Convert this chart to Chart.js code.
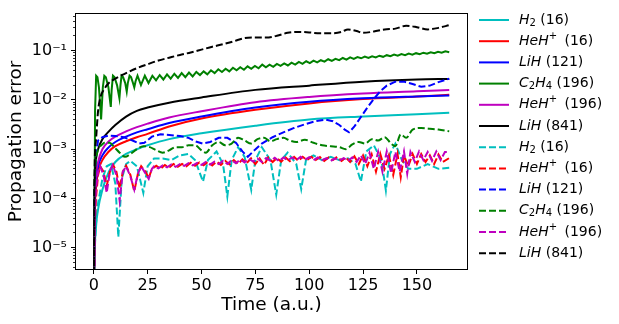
<!DOCTYPE html>
<html>
<head>
<meta charset="utf-8">
<script src="https://cdn.jsdelivr.net/npm/chart.js@4.4.1/dist/chart.umd.min.js"></script>
<style>
  html, body { margin: 0; padding: 0; background: #fff; }
</style>
</head>
<body>
<canvas id="errChart" width="619" height="324"></canvas>
<script>
// legend text: formula (mathtext-ish) + basis size
const formulas = ['H_2', 'HeH^+', 'LiH', 'C_2H_4', 'HeH^+', 'LiH'];
const sizes = ['16', '16', '121', '196', '196', '841'];
const colors = ['#00bfbf', '#ff0000', '#0000ff', '#008000', '#bf00bf', '#000000'];

const xTicks = [0, 25, 50, 75, 100, 125, 150];
const yDecades = [1e-5, 1e-4, 1e-3, 1e-2, 1e-1];
const yDecadeLabels = ['10\u207b\u2075', '10\u207b\u2074', '10\u207b\u00b3', '10\u207b\u00b2', '10\u207b\u00b9'];

// solid lines (smooth ones share one time grid)
const tSmooth = [0, 0.3, 1, 2, 4, 7, 10, 15, 20, 25, 35, 50, 75, 100, 125, 150, 165];
const h2Solid = [1e-7, 4e-6, 2.5e-5, 6e-5, 1.5e-4, 3.5e-4, 5.5e-4, 8e-4, 1e-3, 1.2e-3, 1.6e-3, 2.1e-3, 3e-3, 4e-3, 4.6e-3, 5.1e-3, 5.5e-3];
const heh16Solid = [1e-7, 2e-5, 1.5e-4, 3.5e-4, 6e-4, 9e-4, 1.15e-3, 1.45e-3, 1.75e-3, 2.05e-3, 2.9e-3, 4.2e-3, 6.3e-3, 8.5e-3, 1.04e-2, 1.17e-2, 1.27e-2];
const lih121Solid = [1e-7, 3e-5, 2.2e-4, 4.5e-4, 7.5e-4, 1.1e-3, 1.4e-3, 1.8e-3, 2.2e-3, 2.55e-3, 3.4e-3, 4.6e-3, 7e-3, 9.2e-3, 1.08e-2, 1.18e-2, 1.23e-2];
const heh196Solid = [1e-7, 4e-5, 3e-4, 5.5e-4, 1e-3, 1.45e-3, 1.8e-3, 2.3e-3, 2.8e-3, 3.3e-3, 4.4e-3, 5.9e-3, 9e-3, 1.15e-2, 1.35e-2, 1.5e-2, 1.6e-2];
const lih841Solid = [1e-7, 8e-5, 6e-4, 1e-3, 1.6e-3, 2.3e-3, 3.1e-3, 4.6e-3, 6e-3, 7e-3, 8.8e-3, 1.12e-2, 1.6e-2, 1.95e-2, 2.34e-2, 2.6e-2, 2.67e-2];

const tC2h4Solid = [0, 0.6, 1.1, 1.7, 2.4, 3.4, 4.2, 4.9, 5.6, 6.8, 7.9, 8.3, 8.9, 9.6, 10.8, 11.9, 12.4, 12.9, 13.6, 14.6, 15.3, 15.8, 16.6, 17.3, 18.2, 18.8, 19.4,
  20.3, 21.9, 23.7, 25.4,
  27.2, 28.9, 30.6, 32.3, 34.0, 35.7, 37.4, 39.1, 40.8, 42.5, 44.2, 45.9, 47.6, 49.3, 51.0, 52.7, 54.4, 56.1, 57.8, 59.5,
  61.2, 62.9, 64.6, 66.3, 68.0, 69.7, 71.4, 73.1, 74.8, 76.5, 78.2, 79.9, 81.6, 83.3, 85.0, 86.7, 88.4, 90.1, 91.8, 93.5,
  95.2, 96.9, 98.6, 100.3, 102.0, 103.7, 105.4, 107.1, 108.8, 110.5, 112.2, 113.9, 115.6, 117.3, 119.0, 120.7, 122.4, 124.1, 125.8, 127.5,
  129.2, 130.9, 132.6, 134.3, 136.0, 137.7, 139.4, 141.1, 142.8, 144.5, 146.2, 147.9, 149.6, 151.3, 153.0, 154.7, 156.4, 158.1, 159.8, 161.5,
  163.2, 165.0];
const c2h4Solid = [1e-7, 0.006, 0.031, 0.029, 0.018, 0.004, 0.018, 0.031, 0.029, 0.018, 0.0072, 0.016, 0.031, 0.029, 0.02, 0.0108, 0.02, 0.031, 0.029, 0.022, 0.0148, 0.022, 0.031, 0.029, 0.022, 0.018, 0.024,
  0.031, 0.02, 0.031, 0.022,
  0.031, 0.025, 0.032, 0.026, 0.033, 0.027, 0.034, 0.028, 0.035, 0.029, 0.036, 0.030, 0.037, 0.032, 0.038, 0.033, 0.040, 0.035, 0.042, 0.037,
  0.043, 0.038, 0.045, 0.040, 0.046, 0.041, 0.048, 0.043, 0.049, 0.044, 0.052, 0.046, 0.052, 0.047, 0.054, 0.049, 0.055, 0.050, 0.057, 0.052,
  0.059, 0.054, 0.061, 0.056, 0.063, 0.058, 0.064, 0.060, 0.067, 0.062, 0.068, 0.064, 0.071, 0.066, 0.073, 0.068, 0.074, 0.070, 0.076, 0.071,
  0.077, 0.073, 0.079, 0.075, 0.081, 0.077, 0.083, 0.079, 0.085, 0.081, 0.087, 0.083, 0.089, 0.085, 0.091, 0.087, 0.093, 0.089, 0.095, 0.091,
  0.097, 0.093];

// dashed lines
const tH2Dash = [0, 0.5, 1, 2, 4, 6, 8, 10, 11.4, 13, 15, 17, 20, 23, 25, 28, 32, 36, 40, 44,
  47, 50.7, 53, 57, 60, 62, 64, 67, 70, 73.1, 75, 78, 82, 84.7, 87, 90, 94, 96.3, 98.5, 102,
  106, 110, 114, 118, 121.5, 124, 126.5, 130, 133.5, 135.6, 137.5, 140, 143, 146, 150, 155, 160, 165];
const h2Dash = [1e-7, 1e-5, 3e-5, 8e-5, 2.5e-4, 4.5e-4, 5e-4, 2e-4, 1.65e-5, 2.5e-4, 5e-4, 5.8e-4, 4.5e-4, 1.3e-4, 4.5e-4, 6.5e-4, 6.5e-4, 6e-4, 7.5e-4, 8e-4,
  6e-4, 2.2e-4, 6e-4, 9e-4, 5e-4, 1.1e-4, 6e-4, 1.1e-3, 7e-4, 1.5e-4, 6e-4, 1.1e-3, 6e-4, 1.2e-4, 6e-4, 8.5e-4, 5e-4, 1.55e-4, 6e-4, 7.5e-4,
  6e-4, 7e-4, 6e-4, 6.5e-4, 5e-4, 2.2e-4, 9e-4, 1.2e-3, 6e-4, 1.45e-4, 8e-4, 1.3e-3, 6e-4, 4e-4, 4e-4, 5e-4, 4e-4, 4.2e-4];

const tHeh16Dash = [0, 0.5, 1, 2, 3, 4.5, 6, 7.5, 9, 10.5, 12, 13.5, 15, 17, 18.8, 20.5, 22, 24, 25.5, 27,
  29, 31, 33, 35, 37, 39, 41, 43, 45, 47, 49, 51, 53, 55, 57, 59, 61, 63, 65, 67,
  69, 71, 73, 75, 77, 79, 81, 83, 85, 87, 89, 91, 93, 95, 97, 99, 101, 103, 105, 107,
  109, 111, 113, 115, 117, 119, 121, 123, 125, 127, 129, 131, 133, 135, 137, 139, 141, 142.5, 144, 146,
  148, 150, 152, 154, 156, 158, 160, 162, 165];
const heh16Dash = [1e-7, 3e-5, 1e-4, 3e-4, 4.5e-4, 3.5e-4, 1.8e-4, 3.5e-4, 4.8e-4, 3.5e-4, 1.6e-4, 3.5e-4, 4.6e-4, 3e-4, 1.4e-4, 3.2e-4, 4.5e-4, 3.5e-4, 2.6e-4, 4e-4,
  4.6e-4, 4e-4, 4.8e-4, 4.2e-4, 5e-4, 4.4e-4, 5e-4, 4.5e-4, 5.3e-4, 4.6e-4, 5.4e-4, 4.7e-4, 5.5e-4, 4.7e-4, 5.6e-4, 4.8e-4, 5.8e-4, 4.9e-4, 6e-4, 5e-4,
  6.2e-4, 5.2e-4, 6.5e-4, 5e-4, 6.5e-4, 4.8e-4, 6.8e-4, 5.5e-4, 6.6e-4, 5.6e-4, 6.8e-4, 5.7e-4, 7e-4, 5.8e-4, 7e-4, 6e-4, 7e-4, 6e-4, 6.9e-4, 5.8e-4,
  6.8e-4, 6e-4, 7e-4, 5.8e-4, 6.8e-4, 5.5e-4, 7.2e-4, 5e-4, 7.5e-4, 4.5e-4, 7.8e-4, 3.5e-4, 8e-4, 4e-4, 7.5e-4, 3e-4, 8e-4, 2.7e-4, 7.5e-4, 4.5e-4,
  8e-4, 5e-4, 8e-4, 5.5e-4, 7.5e-4, 5e-4, 7.8e-4, 5.5e-4, 6.6e-4];

const tLih121Dash = [0, 0.3, 1, 2, 4, 7, 10, 14, 18, 21, 23.5, 27, 31, 35, 40, 44, 47, 50.5, 54, 58,
  62, 66, 69, 71.5, 74, 78, 83, 88, 93, 98, 103, 107.5, 111, 114, 116.5, 118.5, 121, 124, 127, 130,
  133, 136, 140, 144, 148, 152, 156, 160, 165];
const lih121Dash = [1e-7, 1e-4, 8e-4, 1.5e-3, 1.75e-3, 1.9e-3, 1.85e-3, 1.75e-3, 1.5e-3, 1.3e-3, 1.35e-3, 1.8e-3, 2e-3, 1.95e-3, 1.85e-3, 1.7e-3, 1.45e-3, 1.3e-3, 1.4e-3, 1.7e-3,
  1.7e-3, 1.35e-3, 9e-4, 7e-4, 9e-4, 1.3e-3, 1.75e-3, 2.2e-3, 2.7e-3, 3.2e-3, 3.7e-3, 4e-3, 3.7e-3, 3.1e-3, 2.5e-3, 2.2e-3, 2.9e-3, 4.5e-3, 7e-3, 1.05e-2,
  1.5e-2, 1.95e-2, 2.35e-2, 2.35e-2, 2.1e-2, 1.85e-2, 1.95e-2, 2.3e-2, 2.7e-2];

const tC2h4Dash = [0, 0.3, 1, 2, 3.5, 5, 7.3, 9.5, 12, 14.5, 17, 20, 23, 26, 29, 32, 35, 38, 41, 44,
  47, 50, 52, 55, 58, 61, 64, 67, 70, 73, 76, 79, 82, 85, 88, 91, 94, 98, 102, 106,
  110, 114, 117, 120, 123, 126, 129, 132, 135, 138, 140, 142.5, 145, 148, 152, 156, 160, 165];
const c2h4Dash = [1e-7, 1e-4, 6e-4, 1e-3, 1.2e-3, 1.35e-3, 1.35e-3, 1.1e-3, 8.5e-4, 7e-4, 8e-4, 1e-3, 1.15e-3, 1.1e-3, 9.5e-4, 8.5e-4, 9.5e-4, 1.1e-3, 1.1e-3, 1.2e-3,
  1.2e-3, 9.5e-4, 8.5e-4, 1.2e-3, 1.4e-3, 1.2e-3, 1.3e-3, 1.7e-3, 1.5e-3, 1.3e-3, 1.6e-3, 1.7e-3, 1.45e-3, 1.6e-3, 1.7e-3, 1.5e-3, 1.4e-3, 1.55e-3, 1.35e-3, 1.2e-3,
  1.15e-3, 1.1e-3, 1e-3, 1.25e-3, 1.4e-3, 1.3e-3, 1.6e-3, 1.5e-3, 1.75e-3, 1.3e-3, 1.15e-3, 2e-3, 1.7e-3, 2.5e-3, 2.7e-3, 2.6e-3, 2.5e-3, 2.3e-3];

const tHeh196Dash = [0, 0.5, 1, 2, 3, 4.5, 6, 7.5, 8.8, 10.5, 12, 13.5, 15, 17, 18.8, 20.5, 22, 24, 25.5, 27,
  28, 30, 32, 34, 36, 38, 40, 42, 44, 46, 48, 50, 52, 54, 56, 58, 60, 62, 64, 66,
  68, 70, 72, 74, 76, 78, 80, 82, 84, 86, 88, 90, 92, 94, 96, 98, 100, 102, 104, 106,
  108, 110, 112, 114, 116, 118, 120, 122, 124, 126, 128, 130, 132, 134, 136, 138, 140, 142, 144,
  145.5, 147, 149, 151, 153, 155, 157, 159, 161, 163, 165];
const heh196Dash = [1e-7, 5e-5, 1.5e-4, 3.5e-4, 4.5e-4, 3e-4, 1.3e-4, 3.5e-4, 4.8e-4, 3e-4, 9e-5, 3.5e-4, 4.5e-4, 2.8e-4, 1.5e-4, 3.2e-4, 4.5e-4, 3.2e-4, 2.5e-4, 4e-4,
  4.5e-4, 4.1e-4, 4.7e-4, 4.3e-4, 4.9e-4, 4.4e-4, 5e-4, 4.6e-4, 5.2e-4, 4.7e-4, 5.3e-4, 4.8e-4, 5.5e-4, 4.9e-4, 5.6e-4, 5e-4, 5.8e-4, 5e-4, 6e-4, 5.2e-4,
  6.2e-4, 5.4e-4, 6.4e-4, 5.6e-4, 6.5e-4, 5.5e-4, 6.6e-4, 5.8e-4, 6.7e-4, 5.7e-4, 6.8e-4, 5.9e-4, 6.8e-4, 6e-4, 7e-4, 6.1e-4, 6.9e-4, 6e-4, 6.8e-4, 6e-4,
  6.6e-4, 5.8e-4, 6.5e-4, 5.9e-4, 6.6e-4, 5.8e-4, 6.8e-4, 5.5e-4, 7.5e-4, 5e-4, 8.5e-4, 4e-4, 8.8e-4, 3.5e-4, 9e-4, 3.3e-4, 8.8e-4, 3.5e-4, 9e-4,
  3.2e-4, 8.8e-4, 5.5e-4, 9e-4, 6e-4, 8.8e-4, 5.8e-4, 9e-4, 6e-4, 8.8e-4, 8.8e-4];

const tLih841Dash = [0, 0.3, 1, 2, 3, 5, 7, 10, 15, 20, 25, 30, 35, 40, 45, 50, 55, 60, 65, 70,
  75, 80, 85, 90, 95, 100, 105, 110, 115, 118, 122, 125, 130, 135, 140, 145, 150, 155, 160, 165];
const lih841Dash = [1e-7, 2e-4, 1.5e-3, 6e-3, 0.011, 0.017, 0.022, 0.027, 0.035, 0.044, 0.053, 0.063, 0.072, 0.082, 0.092, 0.105, 0.12, 0.135, 0.155, 0.18,
  0.185, 0.185, 0.2, 0.23, 0.24, 0.235, 0.225, 0.225, 0.24, 0.27, 0.25, 0.23, 0.245, 0.27, 0.28, 0.32, 0.3, 0.27, 0.29, 0.33];

function toPoints(times, values) {
    const pts = [];
    for (let i = 0; i < Math.min(times.length, values.length); i++) {
        pts.push({x: times[i], y: values[i]});
    }
    return pts;
}

function isDecade(v) {
    const l = Math.log10(v);
    return Math.abs(l - Math.round(l)) < 1e-6;
}

// draws "H_2", "HeH^+" style labels: italic letters, small upright sub/superscripts
function drawFormula(ctx, text, x, y) {
    for (let i = 0; i < text.length; i++) {
        let ch = text[i];
        if (ch === '_' || ch === '^') {
            const sub = ch === '_';
            ch = text[++i];
            ctx.font = '10px "DejaVu Sans"';
            ctx.fillText(ch, x, y + (sub ? 3 : -5));
            x += ctx.measureText(ch).width + (sub ? 0 : 3);
        } else {
            ctx.font = 'italic 14px "DejaVu Sans"';
            ctx.fillText(ch, x, y);
            x += ctx.measureText(ch).width;
        }
    }
    return x;
}

const sideLegend = {
    id: 'sideLegend',
    afterDraw(chart) {
        const ctx = chart.ctx;
        const area = chart.chartArea;
        const x0 = area.right + 12;
        let y = area.top + 6;
        chart.data.datasets.forEach((ds, i) => {
            ctx.save();
            ctx.strokeStyle = ds.borderColor;
            ctx.lineWidth = ds.borderWidth;
            ctx.setLineDash(ds.borderDash || []);
            ctx.beginPath();
            ctx.moveTo(x0, y);
            ctx.lineTo(x0 + 30, y);
            ctx.stroke();
            ctx.fillStyle = '#000';
            ctx.textBaseline = 'middle';
            const k = i % 6;
            let x = drawFormula(ctx, formulas[k], x0 + 40, y);
            ctx.font = '14px "DejaVu Sans"';
            ctx.fillText(' (' + sizes[k] + ')', x, y);
            ctx.restore();
            y += 21.2;
        });
    }
};

const frame = {
    id: 'frame',
    afterDatasetsDraw(chart) {
        const a = chart.chartArea;
        const ctx = chart.ctx;
        ctx.save();
        ctx.strokeStyle = '#000';
        ctx.lineWidth = 1;
        ctx.strokeRect(a.left - 0.5, a.top - 0.5, a.right - a.left + 1, a.bottom - a.top + 1);
        ctx.restore();
    }
};

function setChart(ctxId) {
    const series = [
        [tSmooth, h2Solid], [tSmooth, heh16Solid], [tSmooth, lih121Solid],
        [tC2h4Solid, c2h4Solid], [tSmooth, heh196Solid], [tSmooth, lih841Solid],
        [tH2Dash, h2Dash], [tHeh16Dash, heh16Dash], [tLih121Dash, lih121Dash],
        [tC2h4Dash, c2h4Dash], [tHeh196Dash, heh196Dash], [tLih841Dash, lih841Dash]
    ];
    // which ones look smooth in the figure
    const smooth = [true, true, true, false, true, true, false, false, false, true, false, true];

    const datasets = series.map((s, i) => ({
        label: formulas[i % 6] + ' (' + sizes[i % 6] + ')',
        data: toPoints(s[0], s[1]),
        borderColor: colors[i % 6],
        borderWidth: 2,
        borderDash: i < 6 ? [] : [7, 3],
        pointRadius: 0,
        fill: false,
        cubicInterpolationMode: smooth[i] ? 'monotone' : 'default',
        tension: 0,
        order: 12 - i
    }));

    Chart.defaults.font.family = '"DejaVu Sans", sans-serif';
    Chart.defaults.color = '#000';

    const yTickValues = [];
    for (let e = -6; e <= -1; e++) {
        for (let m = 1; m <= 9; m++) {
            const v = m * Math.pow(10, e);
            if (v >= 3.7e-6 && v <= 0.555) yTickValues.push(v);
        }
    }

    new Chart(document.getElementById(ctxId), {
        type: 'line',
        data: {datasets: datasets},
        options: {
            responsive: false,
            animation: false,
            layout: {padding: {left: 0, top: 0, right: 152, bottom: 0}},
            plugins: {
                legend: {display: false},
                tooltip: {enabled: false}
            },
            scales: {
                x: {
                    type: 'linear',
                    min: -8.25,
                    max: 173.25,
                    afterBuildTicks: (scale) => { scale.ticks = xTicks.map(v => ({value: v})); },
                    afterFit: (scale) => { scale.height = 55; },
                    ticks: {font: {size: 16}, padding: 2, autoSkip: false, maxRotation: 0, color: '#000'},
                    grid: {display: true, drawOnChartArea: false, tickLength: 5, color: '#000', tickWidth: 1},
                    border: {display: false},
                    title: {display: true, text: 'Time (a.u.)', font: {size: 18.5}, padding: {top: 0, bottom: 8}, color: '#000'}
                },
                y: {
                    type: 'logarithmic',
                    min: 3.7e-6,
                    max: 0.555,
                    afterBuildTicks: (scale) => { scale.ticks = yTickValues.map(v => ({value: v})); },
                    afterFit: (scale) => { scale.width = 76; scale.paddingTop = 14; },
                    ticks: {
                        font: {size: 16},
                        padding: 4,
                        autoSkip: false,
                        color: '#000',
                        callback: (value) => {
                            const idx = yDecades.findIndex(d => Math.abs(d - value) / d < 1e-6);
                            return idx >= 0 ? yDecadeLabels[idx] : '';
                        }
                    },
                    grid: {
                        display: true,
                        drawOnChartArea: false,
                        tickLength: 5,
                        color: '#000',
                        tickWidth: (c) => (c.tick && isDecade(c.tick.value) ? 1 : 0.8),
                        tickBorderDash: (c) => (c.tick && isDecade(c.tick.value) ? [] : [0, 2, 3, 20])
                    },
                    border: {display: false},
                    title: {display: true, text: 'Propagation error', font: {size: 18.5}, padding: {top: 5, bottom: 0}, color: '#000'}
                }
            }
        },
        plugins: [frame, sideLegend]
    });
}

setChart('errChart');
</script>
</body>
</html>
